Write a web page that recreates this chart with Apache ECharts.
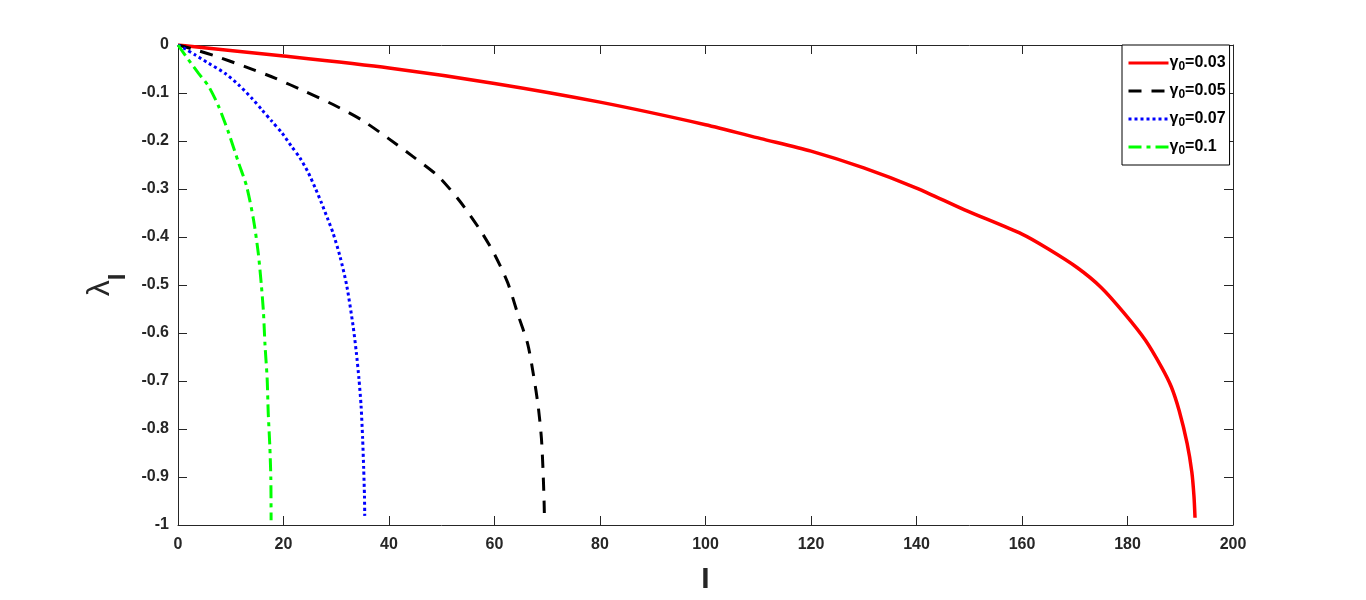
<!DOCTYPE html>
<html><head><meta charset="utf-8">
<script src="https://cdn.jsdelivr.net/npm/echarts@6/dist/echarts.min.js"></script>
<style>html,body{margin:0;padding:0;background:#fff}#c{width:1366px;height:600px}</style>
</head><body><div id="c"></div>
<script>
const gammaLabels = ['0.03', '0.05', '0.07', '0.1'];
const xTicks = [0, 20, 40, 60, 80, 100, 120, 140, 160, 180, 200];
const yTicks = [0, -0.1, -0.2, -0.3, -0.4, -0.5, -0.6, -0.7, -0.8, -0.9, -1];

const redX = [0, 20, 40, 60, 80, 100, 110.5, 120, 130, 140, 149, 160, 165, 170.5, 175, 179.4, 183.4, 186.5, 188.3, 189.8, 191.3, 192.2, 192.6, 192.8];
const redY = [0, -0.023, -0.048, -0.080, -0.119, -0.166, -0.195, -0.221, -0.256, -0.298, -0.343, -0.394, -0.425, -0.464, -0.505, -0.559, -0.615, -0.672, -0.712, -0.762, -0.830, -0.890, -0.940, -0.985];

const blackX = [0, 3, 7.1, 12.7, 18.4, 24.1, 29.4, 34.8, 39.8, 44.5, 49.3, 53.4, 57.2, 60.0, 62.5, 64.4, 66.3, 67.4, 68.3, 68.9, 69.2, 69.4, 69.45];
const blackY = [0, -0.009, -0.023, -0.045, -0.069, -0.097, -0.124, -0.156, -0.194, -0.232, -0.273, -0.325, -0.384, -0.436, -0.495, -0.560, -0.623, -0.688, -0.754, -0.820, -0.886, -0.950, -0.975];

const blueX = [0, 1.5, 3.3, 5.8, 8.9, 11.5, 14.0, 15.9, 17.8, 19.7, 21.5, 23.1, 24.7, 26.1, 27.2, 28.3, 29.4, 30.7, 32.0, 33.2, 33.8, 34.3, 34.7, 35.0, 35.2, 35.35, 35.4];
const blueY = [0, -0.009, -0.021, -0.038, -0.059, -0.083, -0.111, -0.135, -0.159, -0.183, -0.211, -0.235, -0.266, -0.300, -0.329, -0.360, -0.392, -0.440, -0.502, -0.586, -0.640, -0.695, -0.751, -0.820, -0.882, -0.940, -0.981];

const greenX = [0, 2.0, 3.9, 5.8, 7.7, 9.6, 11.5, 13.0, 14.3, 15.2, 15.8, 16.2, 16.5, 16.9, 17.1, 17.4, 17.6, 17.65];
const greenY = [0, -0.031, -0.059, -0.086, -0.128, -0.183, -0.246, -0.294, -0.363, -0.432, -0.500, -0.557, -0.626, -0.695, -0.765, -0.834, -0.903, -0.990];

const zip = (xs, ys) => xs.map((x, i) => [x, ys[i]]);
const names = gammaLabels.map(g => 'γ0=' + g);
const FONT = '"Liberation Sans", Arial, sans-serif';
const AX = '#262626';

const chart = echarts.init(document.getElementById('c'));
const baseX = {
  type: 'value', min: 0, max: 200, interval: 20,
  axisLine: { show: true, onZero: false, lineStyle: { color: AX, width: 1 } },
  axisTick: { show: true, inside: true, length: 9, lineStyle: { color: AX } },
  splitLine: { show: false }
};
const baseY = {
  type: 'value', min: -1, max: 0, interval: 0.1,
  axisLine: { show: true, onZero: false, lineStyle: { color: AX, width: 1 } },
  axisTick: { show: true, inside: true, length: 9, lineStyle: { color: AX } },
  splitLine: { show: false }
};
const lineSeries = (name, xs, ys, color, width, type) => ({
  name, type: 'line', data: zip(xs, ys), showSymbol: false, symbol: 'none',
  smooth: 0.25,
  lineStyle: { color, width, type }, itemStyle: { color }
});
chart.setOption({
  animation: false,
  backgroundColor: '#fff',
  grid: { left: 178, right: 133, top: 45, bottom: 74, containLabel: false },
  xAxis: [
    Object.assign({}, baseX, {
      position: 'bottom',
      axisLabel: { color: AX, fontFamily: FONT, fontWeight: 'bold', fontSize: 16, margin: 12,
        formatter: v => xTicks.includes(v) ? String(v) : '' },
      name: 'I', nameLocation: 'middle', nameGap: 40,
      nameTextStyle: { color: AX, fontFamily: FONT, fontWeight: 'bold', fontSize: 30 }
    }),
    Object.assign({}, baseX, { position: 'top', axisLabel: { show: false } })
  ],
  yAxis: [
    Object.assign({}, baseY, {
      position: 'left',
      axisLabel: { color: AX, fontFamily: FONT, fontWeight: 'bold', fontSize: 16, margin: 9,
        formatter: v => { const r = Math.round(v * 10) / 10; return yTicks.includes(r) ? String(r) : ''; } },
      name: '{l|λ}{s|I}', nameLocation: 'middle', nameGap: 60, nameRotate: 90,
      nameTextStyle: {
        color: AX, fontFamily: FONT,
        rich: {
          l: { fontSize: 32, fontFamily: FONT, color: AX, verticalAlign: 'bottom', lineHeight: 40 },
          s: { fontSize: 24, fontFamily: FONT, fontWeight: 'bold', color: AX, verticalAlign: 'bottom', lineHeight: 40, padding: [0, 0, -14, 0] }
        }
      }
    }),
    Object.assign({}, baseY, { position: 'right', axisLabel: { show: false } })
  ],
  legend: {
    data: names,
    orient: 'vertical', left: 1122, top: 45,
    padding: [10, 4, 8, 5],
    itemWidth: 40, itemHeight: 14, itemGap: 10,
    itemStyle: { opacity: 0 },
    lineStyle: { width: 3 },
    backgroundColor: '#fff',
    borderColor: '#000', borderWidth: 1, borderRadius: 0,
    formatter: name => '{a|γ}{b|0}{a|' + name.slice(2) + '}',
    textStyle: {
      color: '#000', fontFamily: FONT, fontWeight: 'bold', fontSize: 16, padding: [0, 0, 0, -4],
      rich: {
        a: { fontSize: 16, fontWeight: 'bold', fontFamily: FONT, color: '#000', lineHeight: 20, verticalAlign: 'middle' },
        b: { fontSize: 12, fontWeight: 'bold', fontFamily: FONT, color: '#000', lineHeight: 20, verticalAlign: 'bottom' }
      }
    }
  },
  series: [
    lineSeries(names[0], redX, redY, '#ff0000', 3.5, 'solid'),
    lineSeries(names[1], blackX, blackY, '#000000', 3, [13, 10]),
    lineSeries(names[2], blueX, blueY, '#0000ff', 3, [3, 3]),
    lineSeries(names[3], greenX, greenY, '#00ff00', 3, [13, 5, 4, 5])
  ]
});
</script></body></html>
